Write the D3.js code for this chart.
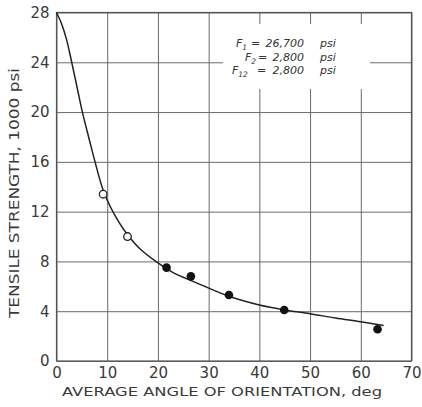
<!DOCTYPE html>
<html>
<head>
<meta charset="utf-8">
<script src="https://cdn.jsdelivr.net/npm/d3@7"></script>
<style>
  body { margin: 0; background: #fff; }
  svg { display: block; }
  .tick text { font-family: "DejaVu Sans", sans-serif; font-size: 15px; fill: #3a3a3a; }
  .leg { font-family: "DejaVu Sans", sans-serif; font-style: italic; font-size: 11px; fill: #333; }
</style>
</head>
<body>
<svg class="chart"></svg>
<script>
// traced curve (angle deg, strength 1000 psi)
var curveX = [0, 1, 2, 3, 4, 5.1, 6.4, 7.6, 9.4, 12.3, 14.2, 16.5, 19.6, 23, 27.5, 34, 40, 45, 50, 55, 60, 64.5];
var curveY = [28, 27.1, 25.8, 24, 22.1, 20, 17.9, 16, 13.5, 11.15, 10.05, 9, 8, 7.1, 6.3, 5.2, 4.5, 4.1, 3.8, 3.45, 3.15, 2.85];

// test points
var openX = [9.2, 14.0];
var openY = [13.4, 10.0];
var filledX = [21.7, 26.5, 34.0, 44.9, 63.3];
var filledY = [7.5, 6.8, 5.3, 4.1, 2.55];

var xTicks = [0, 10, 20, 30, 40, 50, 60, 70];
var yTicks = [0, 4, 8, 12, 16, 20, 24, 28];

var legendNames = [["F", "1"], ["F", "2"], ["F", "12"]];
var legendValues = ["26,700", "2,800", "2,800"];

let W = 422, H = 407;
let mLeft = 56.5, mRight = 411.5, mTop = 12.5, mBottom = 361;
let w = mRight - mLeft, h = mBottom - mTop;

var xS = d3.scaleLinear().domain([0, 70]).range([0, w]);
var yS = d3.scaleLinear().domain([0, 28]).range([h, 0]);

var svg = d3.select(".chart").attr("width", W).attr("height", H);
var g = svg.append("g").attr("transform", "translate(" + mLeft + "," + mTop + ")");

// grid + tick labels
var gx = g.append("g")
  .attr("transform", "translate(0," + h + ")")
  .call(d3.axisBottom(xS).tickValues(xTicks).tickSize(-h).tickPadding(6).tickFormat(d3.format("d")));
var gy = g.append("g")
  .call(d3.axisLeft(yS).tickValues(yTicks).tickSize(-w).tickPadding(7).tickFormat(d3.format("d")));
[gx, gy].forEach(function(a) {
  a.select(".domain").remove();
  a.selectAll(".tick line").attr("stroke", "#6a6a6a").attr("stroke-width", 1);
});

// blank patch behind the legend
g.append("rect")
  .attr("x", 223 - mLeft).attr("y", 24 - mTop)
  .attr("width", 147).attr("height", 65)
  .attr("fill", "#fff");

// frame
g.append("rect")
  .attr("width", w).attr("height", h)
  .attr("fill", "none").attr("stroke", "#555").attr("stroke-width", 1.2);

// curve
var pts = curveX.map((d, i) => [d, curveY[i]]);
g.append("path")
  .datum(pts)
  .attr("fill", "none")
  .attr("stroke", "#222")
  .attr("stroke-width", 1.5)
  .attr("d", d3.line().x(d => xS(d[0])).y(d => yS(d[1])).curve(d3.curveCatmullRom.alpha(0.5)));

g.selectAll(".open")
  .data(openX)
  .enter().append("circle")
  .attr("cx", d => xS(d))
  .attr("cy", (d, i) => yS(openY[i]))
  .attr("r", 3.8)
  .attr("fill", "#fff").attr("stroke", "#222").attr("stroke-width", 1.3);

g.selectAll(".filled")
  .data(filledX)
  .enter().append("circle")
  .attr("cx", d => xS(d))
  .attr("cy", (d, i) => yS(filledY[i]))
  .attr("r", 4.3)
  .attr("fill", "#111");

// legend text
var lx = [236, 245, 232];
var eqx = [251, 258, 257];
legendNames.forEach(function(n, i) {
  var yy = 47 + i * 13.5;
  var t = svg.append("text").attr("class", "leg").attr("x", lx[i]).attr("y", yy);
  t.append("tspan").text(n[0]);
  t.append("tspan").attr("font-size", 7.5).attr("dy", 3).text(n[1]);
  svg.append("text").attr("class", "leg").attr("x", eqx[i]).attr("y", yy).text("=");
  svg.append("text").attr("class", "leg")
    .attr("x", 304).attr("y", yy)
    .attr("text-anchor", "end")
    .text(legendValues[i]);
  svg.append("text").attr("class", "leg").attr("x", 320).attr("y", yy).text("psi");
});

// axis titles
svg.append("text")
  .attr("x", 62).attr("y", 396)
  .attr("textLength", 320).attr("lengthAdjust", "spacingAndGlyphs")
  .attr("font-family", "DejaVu Sans, sans-serif")
  .attr("font-size", 13).attr("fill", "#3a3a3a")
  .text("AVERAGE ANGLE OF ORIENTATION, deg");

svg.append("text")
  .attr("transform", "translate(19,318) rotate(-90)")
  .attr("textLength", 250).attr("lengthAdjust", "spacingAndGlyphs")
  .attr("font-family", "DejaVu Sans, sans-serif")
  .attr("font-size", 13.5).attr("fill", "#3a3a3a")
  .text("TENSILE STRENGTH, 1000 psi");
</script>
</body>
</html>
